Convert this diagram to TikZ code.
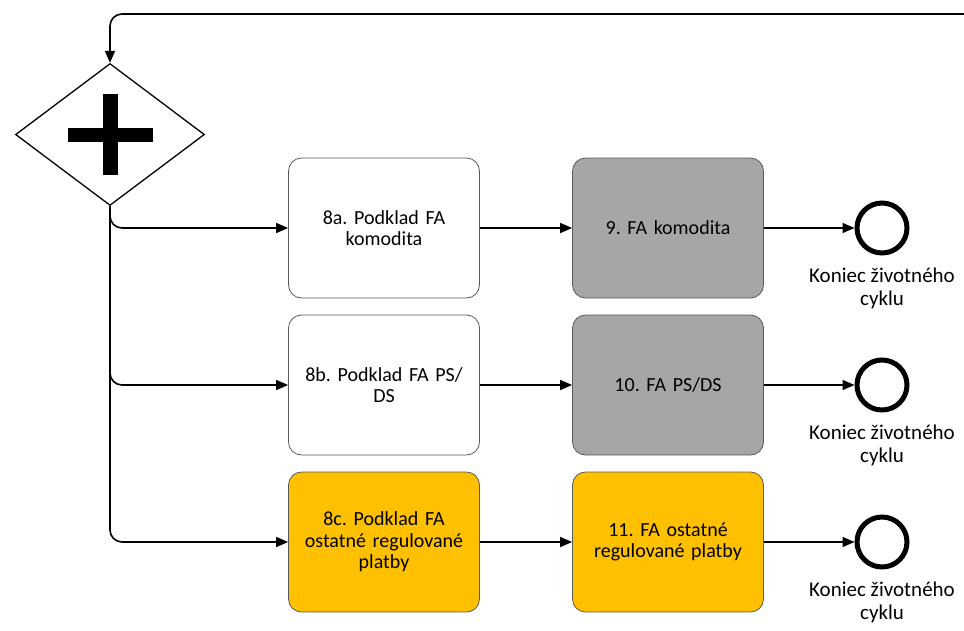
\documentclass[tikz,border=0pt]{standalone}
\usepackage{fontspec}
\setmainfont{Carlito}
\usetikzlibrary{arrows.meta}
\usetikzlibrary{shapes}
\usetikzlibrary{positioning}
\definecolor{taskgray}{HTML}{A6A6A6}
\definecolor{taskyellow}{HTML}{FFC000}
\definecolor{taskborder}{HTML}{595959}
\frenchspacing

\begin{document}
\begin{tikzpicture}[x=1pt,y=-1pt]
      \useasboundingbox (0,0) rectangle (964,630);
      \tikzstyle{every node}=[font=\fontsize{20}{21.5}\selectfont]
      \tikzstyle{task}=[draw=taskborder,line width=0.8pt,rounded corners=13pt,minimum width=191pt,minimum height=140pt,text width=176pt,align=center,inner sep=0pt]
      \tikzstyle{endev}=[circle,draw,line width=5pt,minimum size=50pt,inner sep=0pt]
      \tikzstyle{endlabel}=[below=9pt,align=center,font=\fontsize{21}{23}\selectfont]
      \tikzstyle{flow}=[line width=1.6pt,-{Triangle[length=12pt,width=10pt]}]

      % gateway
      \node[diamond,draw,line width=1.3pt,minimum width=189pt,minimum height=142pt,inner sep=0pt] (gw) at (110,134.5) {};
      \fill (gw.center) ++(-7.5,-40.5) rectangle ++(15,81);
      \fill (gw.center) ++(-42.5,-7) rectangle ++(85,14);
      \coordinate (back) at (964,14);

      % tasks
      \node[task] (a8) at (384,228) {8a. Podklad FA\\komodita};
      \node[task,fill=taskgray] (k9) at (668,228) {9. FA komodita};
      \node[task] (b8) at (384,385) {8b. Podklad FA PS/\\DS};
      \node[task,fill=taskgray] (k10) at (668,385) {10. FA PS/DS};
      \node[task,fill=taskyellow] (c8) at (384,542) {8c. Podklad FA\\ostatné regulované\\platby};
      \node[task,fill=taskyellow] (k11) at (668,542) {11. FA ostatné\\regulované platby};

      % end events
      \node[endev] (e1) at (882,228) {};
      \node[endev] (e2) at (882,385) {};
      \node[endev] (e3) at (882,542) {};
      \node[endlabel] (l1) at (e1.south) {Koniec životného\\cyklu};
      \node[endlabel] (l2) at (e2.south) {Koniec životného\\cyklu};
      \node[endlabel] (l3) at (e3.south) {Koniec životného\\cyklu};

      \draw[flow,rounded corners=12pt] (back) -| (gw.north);
      \draw[flow,rounded corners=12pt] (gw.south) |- (a8.west);
      \draw[flow,rounded corners=12pt] (gw.south) |- (b8.west);
      \draw[flow,rounded corners=12pt] (gw.south) |- (c8.west);
      \draw[flow] (a8) -- (k9);
      \draw[flow] (b8) -- (k10);
      \draw[flow] (c8) -- (k11);
      \draw[flow] (k9) -- (e1);
      \draw[flow] (k10) -- (e2);
      \draw[flow] (k11) -- (e3);
\end{tikzpicture}
\end{document}
